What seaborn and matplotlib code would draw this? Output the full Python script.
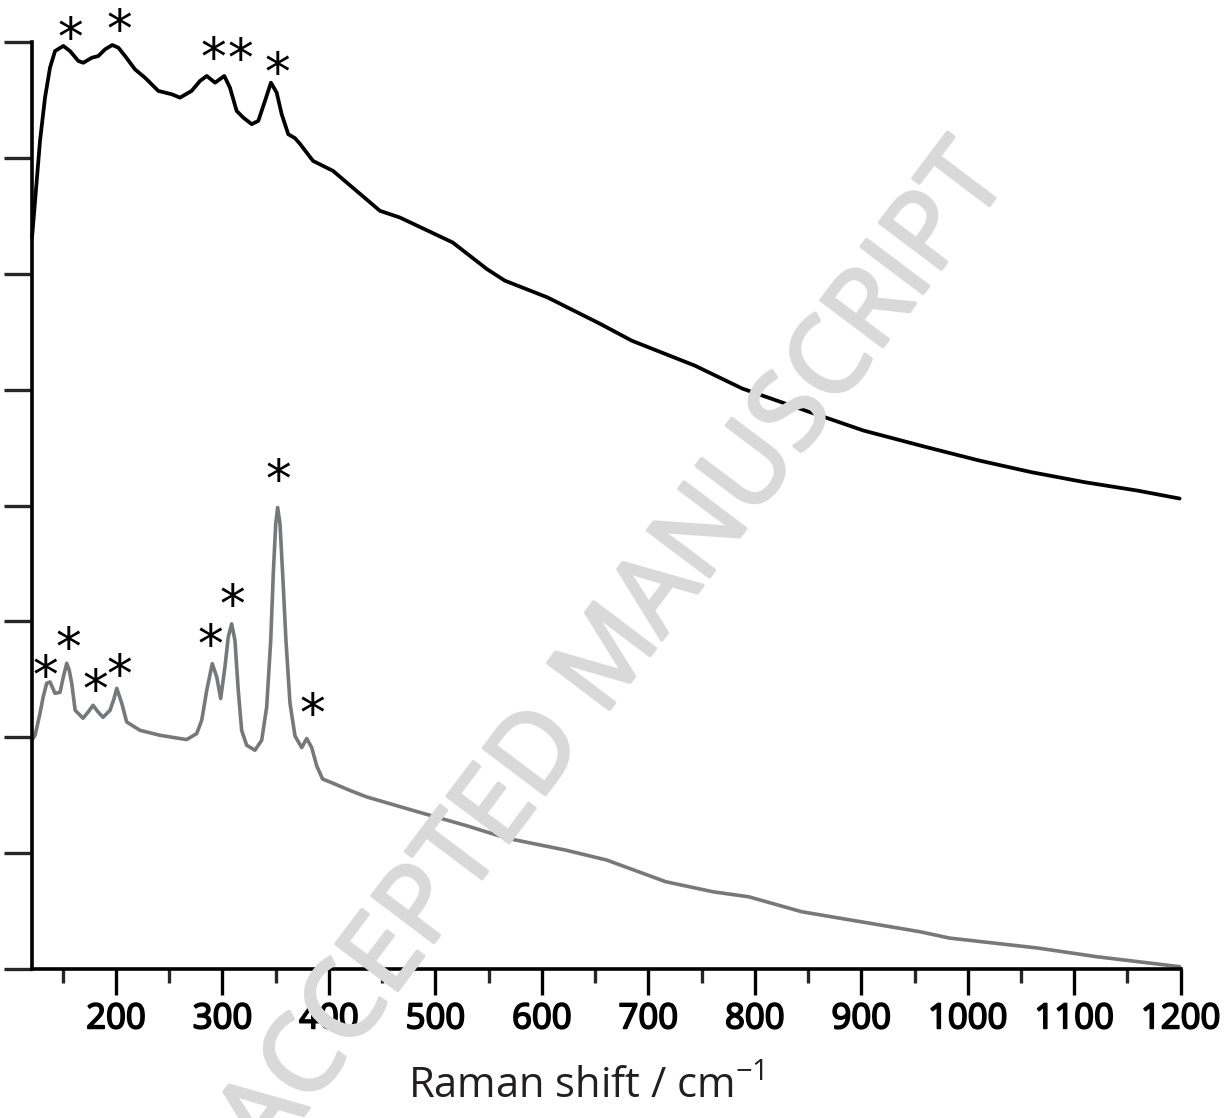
import numpy as np
import pandas as pd
import matplotlib
matplotlib.use("Agg")
import matplotlib.pyplot as plt
import matplotlib.patheffects as pe
import seaborn as sns
from matplotlib.ticker import MultipleLocator, NullFormatter

# ---------------- data ----------------
# upper (black) spectrum
top_x = [121.1, 128.6, 133.3, 138.0, 142.7, 150.5, 156.8, 164.6, 169.3, 177.2,
         183.4, 189.7, 196.5, 202.2, 208.5, 217.8, 227.2, 239.7, 252.3, 260.1,
         271.0, 278.9, 285.2, 293.0, 301.7, 307.0, 313.3, 319.5, 327.4, 333.6,
         339.9, 345.5, 350.9, 355.6, 361.8, 368.1, 372.8, 385.0, 403.8, 429.1,
         447.9, 466.7, 516.2, 548.4, 565.3, 605.2, 654.5, 684.5, 743.7, 788.3,
         842.3, 902.0, 961.5, 1010.8, 1060.1, 1109.9, 1159.2, 1199.0]
top_y = [6.31, 7.147, 7.52, 7.779, 7.922, 7.966, 7.922, 7.836, 7.821, 7.864,
         7.879, 7.937, 7.974, 7.951, 7.879, 7.764, 7.692, 7.578, 7.549, 7.52,
         7.578, 7.664, 7.707, 7.649, 7.707, 7.606, 7.405, 7.348, 7.291, 7.319,
         7.491, 7.649, 7.563, 7.376, 7.204, 7.17, 7.121, 6.974, 6.888, 6.69,
         6.543, 6.485, 6.27, 6.04, 5.94, 5.796, 5.569, 5.422, 5.207, 5.009,
         4.836, 4.647, 4.503, 4.388, 4.287, 4.201, 4.129, 4.06]

# lower (grey) spectrum
bot_x = [120.8, 124.0, 128.6, 131.5, 134.9, 138.0, 142.7, 147.4, 150.5, 153.7,
         156.0, 158.4, 161.6, 169.0, 174.0, 178.4, 183.0, 187.8, 194.4, 198.0,
         200.7, 205.4, 210.0, 222.5, 241.3, 260.1, 266.4, 275.8, 280.5, 285.2,
         290.4, 294.6, 298.3, 302.3, 305.4, 308.6, 311.7, 314.8, 318.0, 322.7,
         330.5, 336.8, 341.5, 345.3, 347.7, 350.0, 351.8, 354.0, 356.5, 359.6,
         363.4, 368.1, 374.4, 379.1, 383.8, 388.5, 394.0, 403.8, 420.0, 435.4,
         483.6, 527.7, 566.9, 622.3, 661.0, 716.4, 761.0, 794.4, 844.1, 899.5,
         954.9, 982.8, 1065.7, 1121.1, 1199.0]
bot_y = [1.974, 2.017, 2.207, 2.345, 2.466, 2.477, 2.379, 2.388, 2.52, 2.638,
         2.58, 2.466, 2.233, 2.164, 2.22, 2.276, 2.22, 2.172, 2.233, 2.33,
         2.422, 2.293, 2.132, 2.06, 2.017, 1.989, 1.98, 2.032, 2.147, 2.405,
         2.635, 2.52, 2.334, 2.606, 2.864, 2.979, 2.836, 2.405, 2.059, 1.931,
         1.888, 1.974, 2.261, 2.836, 3.411, 3.842, 3.983, 3.842, 3.411, 2.836,
         2.293, 2.011, 1.911, 1.989, 1.911, 1.753, 1.64, 1.603, 1.54, 1.485,
         1.356, 1.241, 1.129, 1.026, 0.94, 0.753, 0.666, 0.623, 0.494, 0.408,
         0.322, 0.267, 0.181, 0.106, 0.02]

# asterisk annotations (band markers)
star_top_x = [157.5, 202.8, 291.1, 316.4, 351.2]
star_top_y = [8.095, 8.167, 7.922, 7.916, 7.793]
star_bot_x = [134.0, 155.2, 180.3, 202.8, 288.9, 308.9, 352.1, 384.7]
star_bot_y = [2.586, 2.828, 2.466, 2.595, 2.853, 3.198, 4.278, 2.259]

x_major = [200, 300, 400, 500, 600, 700, 800, 900, 1000, 1100, 1200]
x_labels = [str(v) for v in x_major]

# ---------------- figure ----------------
sns.set_theme(style="ticks")
plt.rcParams["font.family"] = ["Open Sans", "DejaVu Sans"]
plt.rcParams["mathtext.fontset"] = "custom"
plt.rcParams["mathtext.rm"] = "Open Sans"

fig = plt.figure(figsize=(12.26, 11.18), dpi=100)
fig.patch.set_facecolor("white")

# watermark (behind the axes)
fig.text(0.503, 0.416, "ACCEPTED MANUSCRIPT", rotation=53, color="#d9d9d9",
         fontsize=78, fontweight="normal", family=["Open Sans"],
         ha="center", va="center", rotation_mode="anchor", zorder=0,
         path_effects=[pe.withStroke(linewidth=2.5, foreground="#d9d9d9")])

ax = fig.add_axes([0.02586, 0.13327, 0.93719, 0.82916])
ax.set_facecolor("none")

df_top = pd.DataFrame({"x": top_x, "y": top_y})
df_bot = pd.DataFrame({"x": bot_x, "y": bot_y})
sns.lineplot(data=df_top, x="x", y="y", ax=ax, color="black", lw=2.7,
             estimator=None, sort=True)
sns.lineplot(data=df_bot, x="x", y="y", ax=ax, color="#76787a", lw=2.6,
             estimator=None, sort=True)
for ln in ax.lines:
    ln.set_clip_on(False)
    ln.set_solid_joinstyle("round")

for sx, sy in zip(star_top_x + star_bot_x, star_top_y + star_bot_y):
    ax.annotate("*", (sx, sy), xytext=(0, -7.2), textcoords="offset points",
                ha="center", va="center", fontsize=37,
                family=["DejaVu Sans"], color="black", annotation_clip=False)

ax.set_xlim(120.8, 1200)
ax.set_ylim(0, 8)
ax.set_xticks(x_major)
ax.set_xticklabels(x_labels)
ax.xaxis.set_minor_locator(MultipleLocator(50))
ax.set_yticks(range(0, 9))
ax.yaxis.set_major_formatter(NullFormatter())

for s in ["top", "right"]:
    ax.spines[s].set_visible(False)
for s in ["left", "bottom"]:
    ax.spines[s].set_linewidth(2.6)
    ax.spines[s].set_color("black")

ax.tick_params(axis="x", which="major", length=19, width=2.4, direction="out",
               pad=5, labelsize=25, colors="black")
ax.tick_params(axis="x", which="minor", length=10, width=2.4, direction="out")
ax.tick_params(axis="y", which="major", length=20, width=2.4, direction="out")
for lab in ax.get_xticklabels():
    lab.set_path_effects([pe.withStroke(linewidth=1.3, foreground="black")])

ax.set_xlabel("")
ax.set_ylabel("")
fig.text(0.478, 0.0179, r"Raman shift / cm$^{-1}$", ha="center", va="baseline",
         fontsize=30, color="#231f20")

fig.savefig("out.png", dpi=100, facecolor="white")
